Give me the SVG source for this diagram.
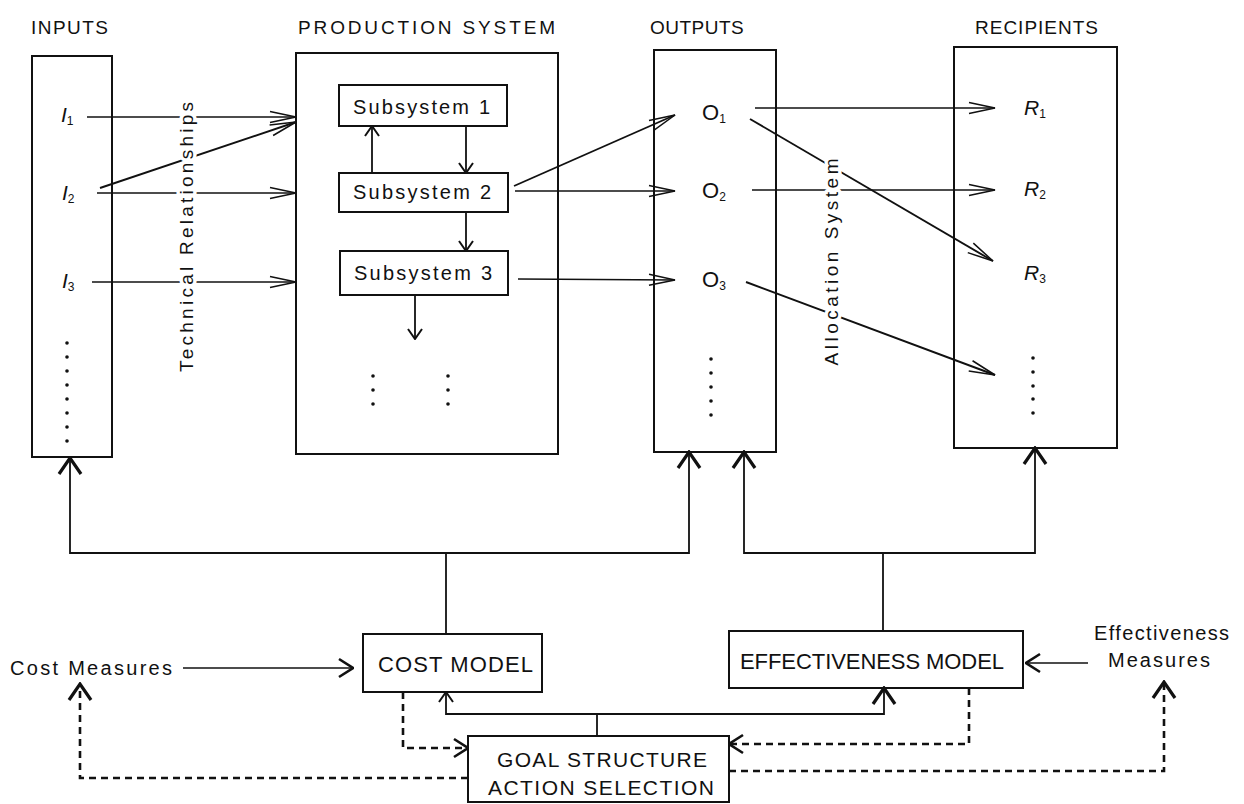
<svg xmlns="http://www.w3.org/2000/svg" width="1244" height="804" viewBox="0 0 1244 804">
<style>
.box{fill:none;stroke:#111;stroke-width:2}
.t{font-family:"Liberation Sans",Arial,sans-serif;fill:#111}
.h{font-size:19px}
.it{font-style:italic;font-size:21px}
.sub{font-size:12px;font-style:normal}
.halo{stroke:#fff;stroke-width:7;paint-order:stroke;stroke-linejoin:round}
.ln{stroke:#111;fill:none;stroke-width:1.4}
.dl{stroke:#111;fill:none;stroke-width:1.9}
.sl{stroke:#111;fill:none;stroke-width:1.8}
.dash{stroke:#111;fill:none;stroke-width:2.6;stroke-dasharray:7 5}
.dot{fill:#111}
</style>
<defs>
<marker id="tri" markerUnits="userSpaceOnUse" viewBox="0 0 28 14" markerWidth="28" markerHeight="14" refX="27" refY="7" orient="auto">
<path d="M1,1.5 L27,7 L1,12.5" fill="none" stroke="#111" stroke-width="1.5"/>
</marker>
<marker id="sm" markerUnits="userSpaceOnUse" viewBox="0 0 12 18" markerWidth="12" markerHeight="18" refX="11" refY="9" orient="auto">
<path d="M1,2 L11,9 L1,16" fill="none" stroke="#111" stroke-width="2"/>
</marker>
<marker id="md" markerUnits="userSpaceOnUse" viewBox="0 0 16 22" markerWidth="16" markerHeight="22" refX="15" refY="11" orient="auto">
<path d="M1,2 L15,11 L1,20" fill="none" stroke="#111" stroke-width="2.6"/>
</marker>
<marker id="fb" markerUnits="userSpaceOnUse" viewBox="0 0 20 26" markerWidth="20" markerHeight="26" refX="18" refY="13" orient="auto">
<path d="M2,2 L18,13 L2,24" fill="none" stroke="#111" stroke-width="3.2"/>
</marker>
</defs>
<rect width="1244" height="804" fill="#fff"/>

<g id="headers">
<text class="t h" x="31" y="34" textLength="77">INPUTS</text>
<text class="t h" x="298" y="34" textLength="257">PRODUCTION SYSTEM</text>
<text class="t h" x="650" y="34" letter-spacing="0.5">OUTPUTS</text>
<text class="t h" x="975" y="34" textLength="123">RECIPIENTS</text>
</g>

<g id="inputs">
<rect class="box" x="32" y="56" width="80" height="401"/>
<text class="t it" x="61" y="122">I<tspan class="sub" dy="3">1</tspan></text>
<text class="t it" x="62" y="200">I<tspan class="sub" dy="3">2</tspan></text>
<text class="t it" x="62" y="288">I<tspan class="sub" dy="3">3</tspan></text>
<circle class="dot" cx="67" cy="343" r="1.8"/><circle class="dot" cx="67" cy="357" r="1.8"/>
<circle class="dot" cx="67" cy="371" r="1.8"/><circle class="dot" cx="67" cy="385" r="1.8"/>
<circle class="dot" cx="67" cy="399" r="1.8"/><circle class="dot" cx="67" cy="413" r="1.8"/>
<circle class="dot" cx="67" cy="427" r="1.8"/><circle class="dot" cx="67" cy="441" r="1.8"/>
</g>

<g id="production">
<rect class="box" x="296" y="53" width="262" height="401"/>
<circle class="dot" cx="373" cy="376" r="1.8"/><circle class="dot" cx="373" cy="390" r="1.8"/><circle class="dot" cx="373" cy="404" r="1.8"/>
<circle class="dot" cx="448" cy="376" r="1.8"/><circle class="dot" cx="448" cy="390" r="1.8"/><circle class="dot" cx="448" cy="404" r="1.8"/>
</g>
<g id="subsystem1">
<rect class="box" x="339" y="85" width="168" height="41"/>
<text class="t" x="353" y="114" font-size="20" textLength="137">Subsystem  1</text>
</g>
<g id="subsystem2">
<rect class="box" x="339" y="173" width="169" height="39"/>
<text class="t" x="353" y="199" font-size="20" textLength="138">Subsystem  2</text>
</g>
<g id="subsystem3">
<rect class="box" x="340" y="251" width="168" height="44"/>
<text class="t" x="354" y="280" font-size="20" textLength="138">Subsystem  3</text>
</g>

<g id="outputs">
<rect class="box" x="654" y="50" width="122" height="402"/>
<text class="t" x="702" y="120" font-size="22">O<tspan class="sub" dy="3">1</tspan></text>
<text class="t" x="702" y="198" font-size="22">O<tspan class="sub" dy="3">2</tspan></text>
<text class="t" x="702" y="287" font-size="22">O<tspan class="sub" dy="3">3</tspan></text>
<circle class="dot" cx="711" cy="359" r="1.8"/><circle class="dot" cx="711" cy="373" r="1.8"/>
<circle class="dot" cx="711" cy="387" r="1.8"/><circle class="dot" cx="711" cy="401" r="1.8"/>
<circle class="dot" cx="711" cy="415" r="1.8"/>
</g>

<g id="recipients">
<rect class="box" x="954" y="47" width="163" height="401"/>
<text class="t it" x="1024" y="115">R<tspan class="sub" dy="3">1</tspan></text>
<text class="t it" x="1024" y="196">R<tspan class="sub" dy="3">2</tspan></text>
<text class="t it" x="1024" y="280">R<tspan class="sub" dy="3">3</tspan></text>
<circle class="dot" cx="1033" cy="358" r="1.8"/><circle class="dot" cx="1033" cy="372" r="1.8"/>
<circle class="dot" cx="1033" cy="386" r="1.8"/><circle class="dot" cx="1033" cy="399" r="1.8"/>
<circle class="dot" cx="1033" cy="413" r="1.8"/>
</g>

<g id="cost-model">
<rect class="box" x="363" y="634" width="179" height="58"/>
<text class="t" x="378" y="672" font-size="22" textLength="155">COST MODEL</text>
</g>
<g id="effectiveness-model">
<rect class="box" x="729" y="631" width="294" height="57"/>
<text class="t" x="740" y="669" font-size="22" textLength="264">EFFECTIVENESS  MODEL</text>
</g>
<g id="goal">
<rect class="box" x="468" y="736" width="261" height="66"/>
<text class="t" x="497" y="767" font-size="21" textLength="210">GOAL STRUCTURE</text>
<text class="t" x="488" y="795" font-size="21" textLength="226">ACTION SELECTION</text>
</g>
<g id="cost-measures">
<text class="t" x="10" y="675" font-size="20" textLength="162">Cost Measures</text>
</g>
<g id="effectiveness-measures">
<text class="t" x="1094" y="640" font-size="20" textLength="135">Effectiveness</text>
<text class="t" x="1108" y="667" font-size="20" textLength="102">Measures</text>
</g>

<g id="connectors">
<path class="ln" d="M87,117 L296,117" marker-end="url(#tri)"/>
<path class="ln" d="M97,193 L296,193" marker-end="url(#tri)"/>
<path class="ln" d="M92,282 L296,282" marker-end="url(#tri)"/>
<path class="dl" d="M100,188 L296,122" marker-end="url(#tri)"/>
<path class="sl" d="M466,126 L466,173" marker-end="url(#sm)"/>
<path class="sl" d="M372,173 L372,126" marker-end="url(#sm)"/>
<path class="sl" d="M466,212 L466,251" marker-end="url(#sm)"/>
<path class="sl" d="M415,295 L415,339" marker-end="url(#sm)"/>
<path class="dl" d="M514,186 L675,115" marker-end="url(#tri)"/>
<path class="ln" d="M515,191 L675,191" marker-end="url(#tri)"/>
<path class="ln" d="M518,279 L675,280" marker-end="url(#tri)"/>
<path class="ln" d="M755,108 L995,108" marker-end="url(#tri)"/>
<path class="ln" d="M752,190 L995,190" marker-end="url(#tri)"/>
<path class="dl" d="M750,119 L993,261" marker-end="url(#tri)"/>
<path class="dl" d="M746,282 L995,375" marker-end="url(#tri)"/>

<path class="sl" d="M446,634 L446,553"/>
<path class="sl" d="M446,553 L70,553 L70,458" marker-end="url(#fb)"/>
<path class="sl" d="M446,553 L689,553 L689,452" marker-end="url(#fb)"/>
<path class="sl" d="M883,631 L883,553"/>
<path class="sl" d="M883,553 L744,553 L744,452" marker-end="url(#fb)"/>
<path class="sl" d="M883,553 L1035,553 L1035,448" marker-end="url(#fb)"/>

<path class="sl" d="M597,736 L597,714"/>
<path class="sl" d="M597,714 L446,714 L446,692" marker-end="url(#sm)"/>
<path class="sl" d="M597,714 L884,714 L884,688" marker-end="url(#fb)"/>

<path class="ln" d="M183,668 L353,668" marker-end="url(#md)"/>
<path class="ln" d="M1088,663 L1026,663" marker-end="url(#md)"/>

<path class="dash" d="M403,692 L403,748 L468,748" marker-end="url(#md)"/>
<path class="dash" d="M969,688 L969,744 L729,744" marker-end="url(#md)"/>
<path class="dash" d="M468,778 L80,778 L80,684" marker-end="url(#fb)"/>
<path class="dash" d="M729,771 L1164,771 L1164,682" marker-end="url(#fb)"/>
</g>

<g id="labels">
<text class="t halo" x="0" y="0" font-size="19" text-anchor="middle" textLength="270" transform="translate(193,237) rotate(-90)">Technical Relationships</text>
<text class="t halo" x="0" y="0" font-size="19" text-anchor="middle" textLength="207" transform="translate(838,262) rotate(-90)">Allocation System</text>
</g>
</svg>
